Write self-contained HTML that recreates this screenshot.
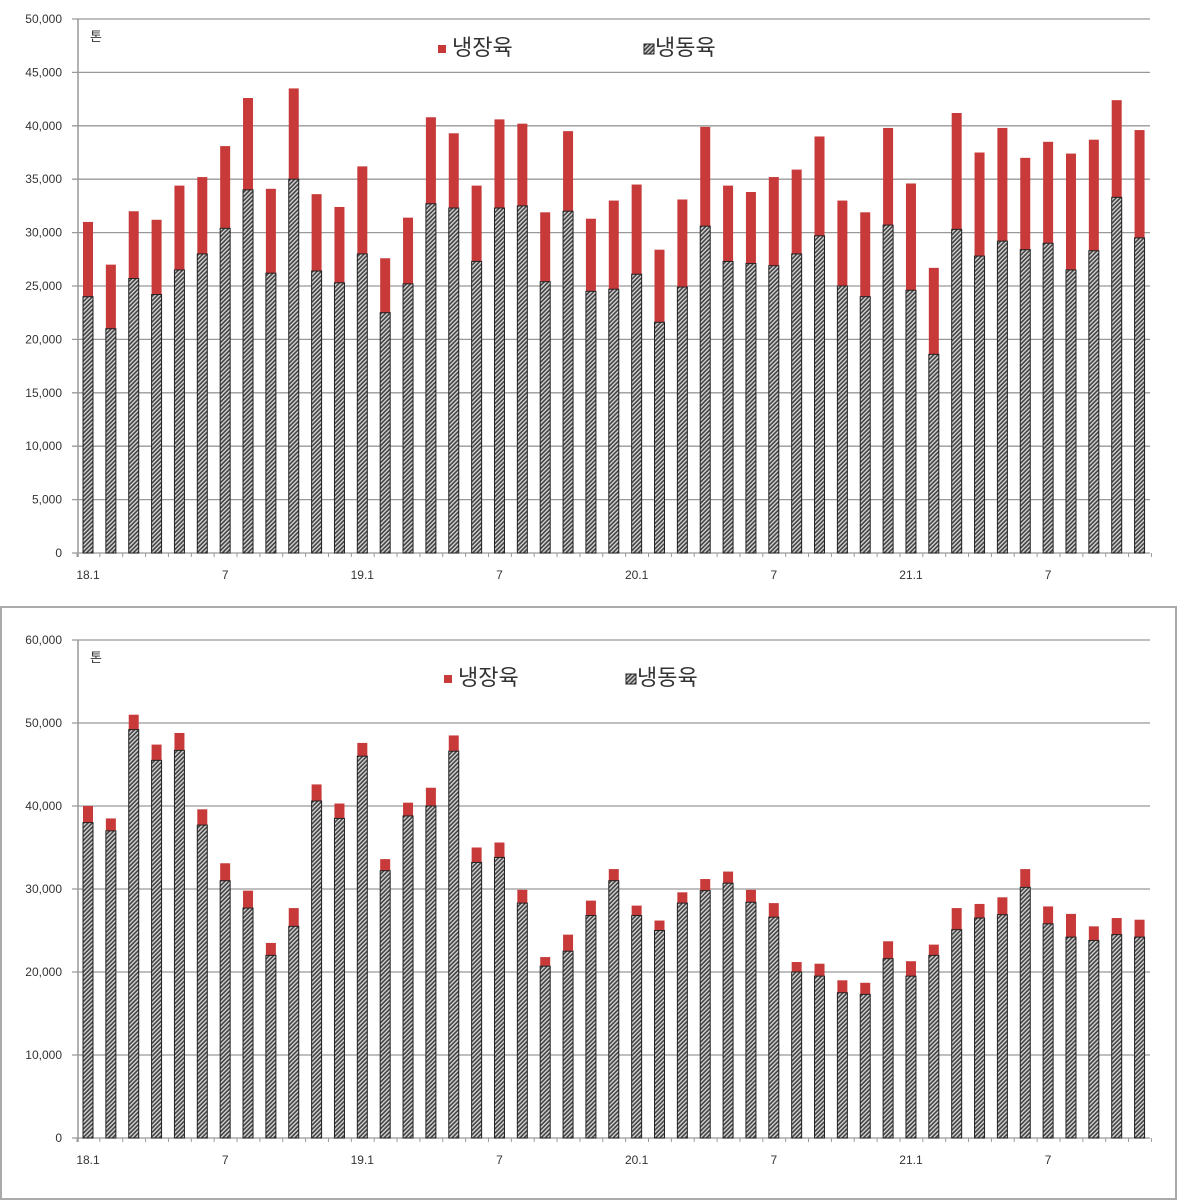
<!DOCTYPE html>
<html><head><meta charset="utf-8"><style>
body{margin:0;background:#fff;width:1178px;height:1200px;overflow:hidden}
svg{display:block}
text{font-family:"Liberation Sans","Noto Sans CJK KR",sans-serif;fill:#333}
</style></head><body>
<svg id="s" width="1178" height="1200" xmlns="http://www.w3.org/2000/svg">
<defs>
<pattern id="h" width="3" height="3" patternUnits="userSpaceOnUse" patternTransform="rotate(45)">
<rect width="3" height="3" fill="#444"/><rect width="1.3" height="3" fill="#ddd"/>
</pattern>
</defs>
<rect x="1" y="607" width="1175" height="592" fill="none" stroke="#aaa" stroke-width="2"/>
</svg>
<script>
(function(){
const s=document.getElementById('s');const NS='http://www.w3.org/2000/svg';
function el(t,a,txt){const e=document.createElementNS(NS,t);for(const k in a)e.setAttribute(k,a[k]);if(txt!=null)e.textContent=txt;s.appendChild(e);return e;}
const dTop=[[31000,24000],[27000,21000],[32000,25700],[31200,24200],[34400,26500],[35200,28000],[38100,30400],[42600,34000],[34100,26200],[43500,35000],[33600,26400],[32400,25300],[36200,28000],[27600,22500],[31400,25200],[40800,32700],[39300,32300],[34400,27300],[40600,32300],[40200,32500],[31900,25400],[39500,32000],[31300,24500],[33000,24700],[34500,26100],[28400,21600],[33100,24900],[39900,30600],[34400,27300],[33800,27100],[35200,26900],[35900,28000],[39000,29700],[33000,25000],[31900,24000],[39800,30700],[34600,24600],[26700,18600],[41200,30300],[37500,27800],[39800,29200],[37000,28400],[38500,29000],[37400,26500],[38700,28300],[42400,33300],[39600,29500]];
const dBot=[[40000,38000],[38500,37000],[51000,49200],[47400,45500],[48800,46700],[39600,37700],[33100,31000],[29800,27700],[23500,22000],[27700,25500],[42600,40600],[40300,38500],[47600,46000],[33600,32200],[40400,38800],[42200,40000],[48500,46600],[35000,33200],[35600,33800],[29900,28300],[21800,20700],[24500,22500],[28600,26800],[32400,31000],[28000,26800],[26200,25000],[29600,28300],[31200,29800],[32100,30700],[29900,28400],[28300,26600],[21200,20000],[21000,19500],[19000,17500],[18700,17300],[23700,21600],[21300,19500],[23300,22000],[27700,25100],[28200,26500],[29000,26900],[32400,30200],[27900,25800],[27000,24200],[25500,23800],[26500,24500],[26300,24200]];
function chart(data,yTop,y0,max,step,lx,ly,lx2){
 const sc=(y0-yTop)/max;
 for(let v=0;v<=max;v+=step){const y=y0-v*sc;
  el('line',{x1:72,x2:1150,y1:y,y2:y,stroke:'#999','stroke-width':1.3});
  el('text',{x:62,y:y+4,'text-anchor':'end','font-size':12},v.toLocaleString('en-US'));}
 el('line',{x1:78,x2:78,y1:yTop,y2:y0+4,stroke:'#999','stroke-width':1.5});
 for(let i=0;i<=47;i++){const x=77+i*22.86;el('line',{x1:x,x2:x,y1:y0,y2:y0+4,stroke:'#999'});}
 el('text',{x:90,y:yTop+22,'font-size':13},'톤');
 data.forEach((d,i)=>{const cx=88+i*22.86,w=10;
  el('rect',{x:cx-w/2,y:y0-d[0]*sc,width:w,height:(d[0]-d[1])*sc,fill:'#c83a3a'});
  el('rect',{x:cx-w/2,y:y0-d[1]*sc,width:w,height:d[1]*sc,fill:'url(#h)',stroke:'#222','stroke-width':1});});
 [['18.1',0],['7',6],['19.1',12],['7',18],['20.1',24],['7',30],['21.1',36],['7',42]].forEach(([t,i])=>{
  el('text',{x:88+i*22.86,y:y0+26,'text-anchor':'middle','font-size':12},t);});
 el('rect',{x:lx,y:ly-10,width:8,height:8,fill:'#c83a3a'});
 el('text',{x:lx+14,y:ly,'font-size':22},'냉장육');
 el('rect',{x:lx2,y:ly-11,width:10,height:10,fill:'url(#h)',stroke:'#222'});
 el('text',{x:lx2+11,y:ly,'font-size':22},'냉동육');
}
chart(dTop,19,553,50000,5000,438,55,644);
chart(dBot,640,1138,60000,10000,444,685,626);
})();
</script>
</body></html>
